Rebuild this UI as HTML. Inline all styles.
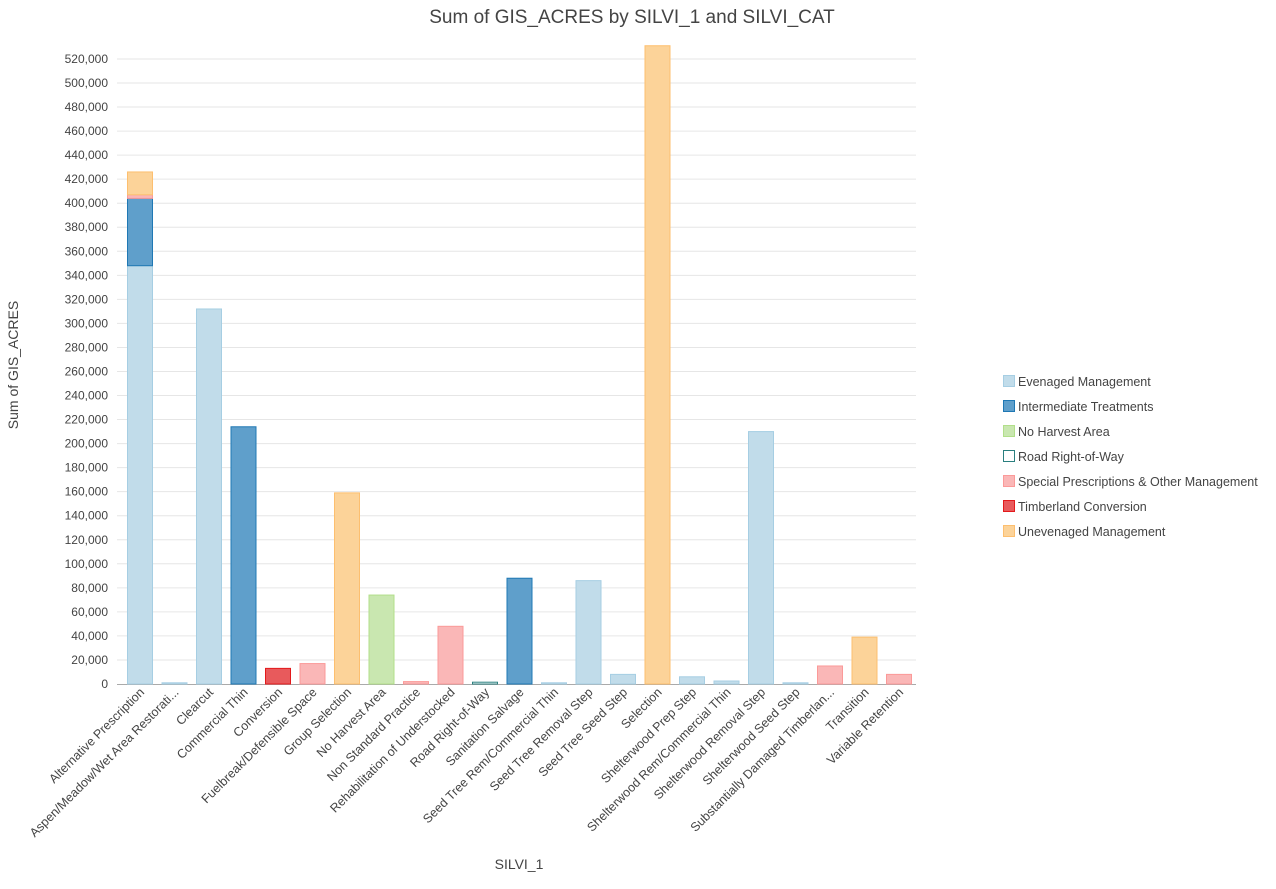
<!DOCTYPE html>
<html><head><meta charset="utf-8"><style>
body{margin:0;background:#fff;font-family:"Liberation Sans",sans-serif;}
svg text{font-family:"Liberation Sans",sans-serif;}
</style></head><body>
<svg id="chart" width="1276" height="884" xmlns="http://www.w3.org/2000/svg">
<text x="632" y="23" text-anchor="middle" font-size="19" fill="#444">Sum of GIS_ACRES by SILVI_1 and SILVI_CAT</text>
<g id="grid"></g><g id="bars"></g><g id="xlabels"></g><g id="ylabels"></g>
<text transform="translate(18,365) rotate(-90)" text-anchor="middle" font-size="14" fill="#444">Sum of GIS_ACRES</text>
<text x="519" y="869" text-anchor="middle" font-size="14" fill="#444">SILVI_1</text>
<g id="legend"></g>
</svg>
<script>
const categories=["Alternative Prescription","Aspen/Meadow/Wet Area Restorati...","Clearcut","Commercial Thin","Conversion","Fuelbreak/Defensible Space","Group Selection","No Harvest Area","Non Standard Practice","Rehabilitation of Understocked","Road Right-of-Way","Sanitation Salvage","Seed Tree Rem/Commercial Thin","Seed Tree Removal Step","Seed Tree Seed Step","Selection","Shelterwood Prep Step","Shelterwood Rem/Commercial Thin","Shelterwood Removal Step","Shelterwood Seed Step","Substantially Damaged Timberlan...","Transition","Variable Retention"];
const seriesNames=["Evenaged Management","Intermediate Treatments","No Harvest Area","Road Right-of-Way","Special Prescriptions & Other Management","Timberland Conversion","Unevenaged Management"];
const evenaged=[348000,1000,312000,0,0,0,0,0,0,0,0,0,1000,86000,8000,0,6000,2500,210000,1000,0,0,0];
const intermediate=[56000,0,0,214000,0,0,0,0,0,0,0,88000,0,0,0,0,0,0,0,0,0,0,0];
const noHarvest=[0,0,0,0,0,0,0,74000,0,0,0,0,0,0,0,0,0,0,0,0,0,0,0];
const road=[0,0,0,0,0,0,0,0,0,0,1500,0,0,0,0,0,0,0,0,0,0,0,0];
const special=[3000,0,0,0,0,17000,0,0,2000,48000,0,0,0,0,0,0,0,0,0,0,15000,0,8000];
const timberland=[0,0,0,0,13000,0,0,0,0,0,0,0,0,0,0,0,0,0,0,0,0,0,0];
const unevenaged=[19000,0,0,0,0,0,159000,0,0,0,0,0,0,0,0,531000,0,0,0,0,0,39000,0];
const yTicks=[0,20000,40000,60000,80000,100000,120000,140000,160000,180000,200000,220000,240000,260000,280000,300000,320000,340000,360000,380000,400000,420000,440000,460000,480000,500000,520000];

const NS="http://www.w3.org/2000/svg";
const x0=117,x1=916,y0=684,pxPer=24.04/20000;
const firstC=140,lastC=899;
const step=(lastC-firstC)/(categories.length-1), bw=25;
const yS=v=>y0-v*pxPer;
const xS=i=>firstC+step*i;
function mk(t,a,p){const e=document.createElementNS(NS,t);for(const k in a)e.setAttribute(k,a[k]);p.appendChild(e);return e;}
const fills=["#c1dcea","#5f9fcb","#c9e7b0","#ffffff","#fab7b7","#e85a5c","#fcd399"];
const strokes=["#a6cee3","#1f78b4","#b2df8a","#2a7f7f","#fb9a99","#e31a1c","#fdbf6f"];
const series=[evenaged,intermediate,noHarvest,road,special,timberland,unevenaged];
const g=document.getElementById('grid');
yTicks.forEach(v=>{
  if(v>0){const l=mk('line',{x1:x0,x2:x1,y1:yS(v),y2:yS(v),stroke:'#e6e6e6','stroke-width':1},g);
  
  }
  const t=mk('text',{x:x0-9,y:yS(v)+4,'text-anchor':'end','font-size':12,fill:'#444'},document.getElementById('ylabels'));
  t.textContent=v.toLocaleString('en-US');
  
  
});
const ax=mk('line',{x1:x0,x2:x1,y1:y0+0.5,y2:y0+0.5,stroke:'#aaa','stroke-width':1},g);


const bg=document.getElementById('bars');
categories.forEach((c,i)=>{
  let base=0;
  series.forEach((s,k)=>{
    const v=s[i]; if(!v) return;
    const yt=yS(base+v), yb=yS(base);
    const r=mk('rect',{x:xS(i)-bw/2,y:yt,width:bw,height:Math.max(yb-yt,1),fill:fills[k],stroke:strokes[k],'stroke-width':1,'fill-opacity':k===3?0.6:1},bg);
    
    
    base+=v;
  });
  const t=mk('text',{transform:`translate(${xS(i)+5},${y0+9}) rotate(-45)`,'text-anchor':'end','font-size':12.5,fill:'#444'},document.getElementById('xlabels'));
  t.textContent=c;
  
  
});
const lg=document.getElementById('legend');
seriesNames.forEach((n,k)=>{
  const y=382+k*25;
  const gi=mk('g',{},lg);
  
  
  mk('rect',{x:1003.5,y:y-6.5,width:11,height:11,fill:fills[k],stroke:strokes[k]},gi);
  const t=mk('text',{x:1018,y:y+4,'font-size':12.5,fill:'#444'},gi);
  t.textContent=n;
});
</script>
</body></html>
